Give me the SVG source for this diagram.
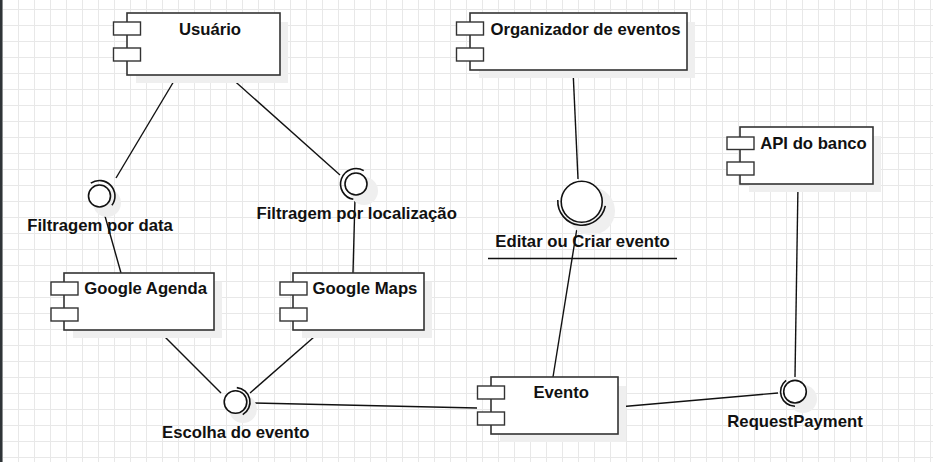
<svg xmlns="http://www.w3.org/2000/svg" width="933" height="462" viewBox="0 0 933 462">
<style>
.box{fill:#fff;stroke:#333;stroke-width:1.6}
.sm{fill:#fff;stroke:#333;stroke-width:1.4}
.sh{fill:#efefef;stroke:none}
.lbl{font-family:"Liberation Sans",Arial,sans-serif;font-weight:bold;font-size:16.7px;fill:#111;text-anchor:middle}
.ln{stroke:#111;stroke-width:1.4;fill:none}
.ic{fill:#fff;stroke:#111;stroke-width:1.6}
.arc{fill:none;stroke:#111;stroke-width:1.6}
</style>
<defs>
<pattern id="grid" x="2" y="9" width="16" height="16" patternUnits="userSpaceOnUse">
<path d="M0.5 0V16M0 0.5H16" stroke="#e8e8e8" stroke-width="1" fill="none"/>
</pattern>
</defs>
<rect x="0" y="0" width="933" height="462" fill="#fff"/>
<rect x="0" y="0" width="933" height="462" fill="url(#grid)"/>
<rect x="0" y="0" width="2.5" height="462" fill="#2f3437"/>

<g id="connectors">
<line class="ln" x1="177" y1="76" x2="116" y2="178"/>
<line class="ln" x1="103" y1="209" x2="121" y2="273"/>
<line class="ln" x1="229" y1="76" x2="340" y2="175"/>
<line class="ln" x1="355" y1="198" x2="353" y2="273"/>
<line class="ln" x1="573" y1="70" x2="578" y2="179"/>
<line class="ln" x1="577" y1="228" x2="553" y2="377"/>
<line class="ln" x1="158" y1="330" x2="221" y2="393"/>
<line class="ln" x1="322" y1="330" x2="250" y2="393"/>
<line class="ln" x1="251" y1="403" x2="477" y2="408"/>
<line class="ln" x1="618" y1="407" x2="778" y2="393"/>
<line class="ln" x1="798" y1="184" x2="795" y2="377"/>
</g>

<g id="usuario">
<rect class="sh" x="136" y="22" width="152" height="61"/>
<rect class="box" x="127" y="13" width="153" height="62"/>
<rect class="sm" x="113.5" y="22" width="27" height="13"/>
<rect class="sm" x="113.5" y="48" width="27" height="13"/>
<text class="lbl" x="210" y="34.5">Usuário</text>
</g>

<g id="organizador">
<rect class="sh" x="479" y="22" width="216" height="56"/>
<rect class="box" x="470" y="13" width="217" height="57"/>
<rect class="sm" x="456.5" y="22" width="27" height="13"/>
<rect class="sm" x="456.5" y="48" width="27" height="13"/>
<text class="lbl" x="585.5" y="35">Organizador de eventos</text>
</g>

<g id="api-banco">
<rect class="sh" x="749" y="136" width="132" height="56"/>
<rect class="box" x="740" y="127" width="133" height="57"/>
<rect class="sm" x="727" y="137" width="27" height="12.5"/>
<rect class="sm" x="727" y="162" width="27" height="13"/>
<text class="lbl" x="813.5" y="149">API do banco</text>
</g>

<g id="google-agenda">
<rect class="sh" x="73" y="282" width="149" height="56"/>
<rect class="box" x="64" y="273" width="150" height="57"/>
<rect class="sm" x="51" y="282" width="27" height="13"/>
<rect class="sm" x="51" y="308" width="27" height="13"/>
<text class="lbl" x="145.7" y="294.3">Google Agenda</text>
</g>

<g id="google-maps">
<rect class="sh" x="302" y="282" width="130" height="56"/>
<rect class="box" x="293" y="273" width="131" height="57"/>
<rect class="sm" x="280" y="282" width="27" height="13"/>
<rect class="sm" x="280" y="308" width="27" height="13"/>
<text class="lbl" x="365" y="294.3">Google Maps</text>
</g>

<g id="evento">
<rect class="sh" x="500" y="386" width="126" height="56"/>
<rect class="box" x="491" y="377" width="127" height="57"/>
<rect class="sm" x="477.5" y="386" width="27" height="13"/>
<rect class="sm" x="477.5" y="412" width="27" height="13"/>
<text class="lbl" x="561.2" y="398.3">Evento</text>
</g>

<g id="filtragem-data">
<circle class="sh" cx="107" cy="203" r="14"/>
<circle class="ic" cx="99.5" cy="196" r="11"/>
<path class="arc" d="M90.8,183.2 A15.5,15.5 0 0 1 111.9,205.3"/>
<text class="lbl" x="100" y="231">Filtragem por data</text>
</g>

<g id="filtragem-localizacao">
<circle class="sh" cx="364" cy="191" r="14"/>
<circle class="ic" cx="356" cy="184" r="11"/>
<path class="arc" d="M353.3,199.3 A15.5,15.5 0 1 1 363.75,170.6"/>
<text class="lbl" x="356.7" y="219.3">Filtragem por localização</text>
</g>

<g id="editar-criar">
<circle class="sh" cx="591" cy="211" r="24"/>
<circle class="ic" cx="581.7" cy="201.7" r="20.5"/>
<path class="arc" d="M605.3,205.9 A24,24 0 0 1 557.8,200"/>
<text class="lbl" x="582.5" y="247.3">Editar ou Criar evento</text>
<line x1="488" y1="258.5" x2="677" y2="258.5" stroke="#111" stroke-width="1.5"/>
</g>

<g id="escolha-evento">
<circle class="sh" cx="243" cy="409" r="14"/>
<circle class="ic" cx="235.5" cy="402" r="11.3"/>
<path class="arc" d="M236.8,387.6 A14.5,14.5 0 0 1 242.75,414.6"/>
<text class="lbl" x="235.8" y="438.3">Escolha do evento</text>
</g>

<g id="request-payment">
<circle class="sh" cx="803" cy="399" r="14"/>
<circle class="ic" cx="795" cy="391.7" r="11.3"/>
<path class="arc" d="M795,406.2 A14.5,14.5 0 0 1 786.1,380.3"/>
<text class="lbl" x="795" y="426.7">RequestPayment</text>
</g>
</svg>
